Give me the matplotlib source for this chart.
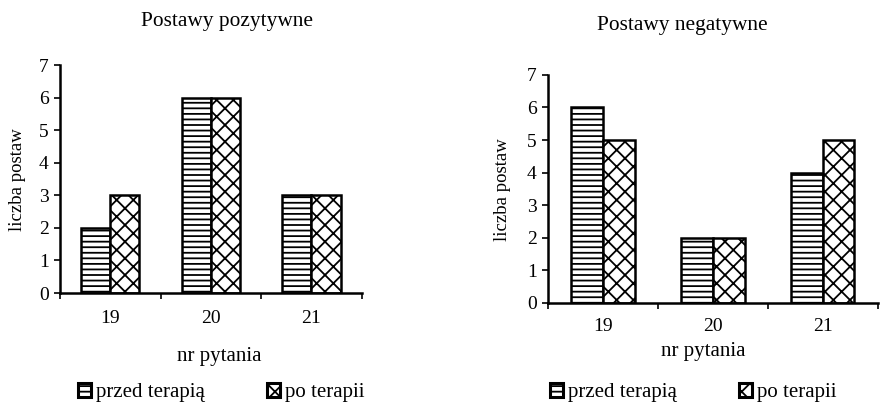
import matplotlib.pyplot as plt
import matplotlib.patches as mpatches
import numpy as np

plt.rcParams['font.family'] = ['Liberation Serif', 'DejaVu Serif']
plt.rcParams['hatch.linewidth'] = 1.3

pytania = ['19', '20', '21']
pozytywne_przed = [2, 6, 3]
pozytywne_po = [3, 6, 3]
negatywne_przed = [6, 2, 4]
negatywne_po = [5, 2, 5]
serie = ['przed terapią', 'po terapii']

fig = plt.figure(figsize=(8.82, 4.05), dpi=100)
ax1 = fig.add_axes([0.068, 0.2765, 0.342, 0.563])
ax2 = fig.add_axes([0.621, 0.252, 0.374, 0.563])

x = np.arange(len(pytania))
w = 0.29


def rysuj(ax, przed, po, pad):
    ax.bar(x - w / 2, przed, w, color='white', edgecolor='black',
           linewidth=1.8, hatch='---')
    ax.bar(x + w / 2, po, w, color='white', edgecolor='black',
           linewidth=1.8, hatch='xx')
    ax.set_xlim(-0.5, 2.5)
    ax.set_ylim(0, 7)
    ax.set_yticks(range(8))
    ax.set_xticks(x)
    ax.set_xticklabels(pytania)
    ax.set_xticks([-0.5, 0.5, 1.5, 2.5], minor=True)
    ax.tick_params(axis='x', which='major', length=0, pad=pad, labelsize=14)
    ax.tick_params(axis='x', which='minor', length=4, width=1.2)
    ax.tick_params(axis='y', length=4, width=1.2, pad=4, labelsize=14)
    for s in ['top', 'right']:
        ax.spines[s].set_visible(False)
    for s in ['left', 'bottom']:
        ax.spines[s].set_linewidth(1.8)


rysuj(ax1, pozytywne_przed, pozytywne_po, 12)
rysuj(ax2, negatywne_przed, negatywne_po, 11)

fig.text(0.257, 0.948, 'Postawy pozytywne', ha='center', va='center', fontsize=15.4)
fig.text(0.774, 0.938, 'Postawy negatywne', ha='center', va='center', fontsize=15.4)
fig.text(0.020, 0.556, 'liczba postaw', rotation=90, ha='center', va='center', fontsize=13.5)
fig.text(0.570, 0.531, 'liczba postaw', rotation=90, ha='center', va='center', fontsize=13.5)
fig.text(0.249, 0.119, 'nr pytania', ha='center', va='center', fontsize=15)
fig.text(0.797, 0.131, 'nr pytania', ha='center', va='center', fontsize=15)

uchwyty = [mpatches.Patch(facecolor='white', edgecolor='black', linewidth=2.2, hatch='---'),
           mpatches.Patch(facecolor='white', edgecolor='black', linewidth=2.2, hatch='xx')]
for cx in [0.251, 0.786]:
    fig.legend(uchwyty, serie, loc='center', bbox_to_anchor=(cx, 0.030), ncol=2,
               frameon=False, fontsize=15, handlelength=0.6, handleheight=0.6,
               handletextpad=0.25, columnspacing=3.0, borderpad=0)

fig.savefig('out.png', dpi=100)
